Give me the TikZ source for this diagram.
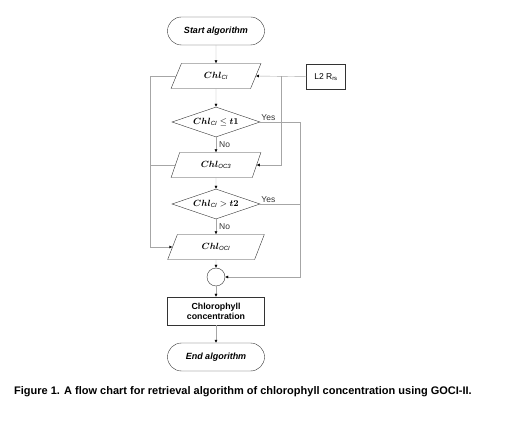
\documentclass[tikz,border=0pt]{standalone}
\usepackage{fontspec}
\setmainfont{Liberation Sans}
\usepackage{bm}
\usetikzlibrary{shapes.geometric, shapes.misc, arrows.meta, positioning}
\tikzset{
  term/.style={draw=black!80, rounded rectangle, minimum width=97pt, minimum height=28pt, inner sep=0pt, font=\fontsize{9}{10}\selectfont\bfseries\itshape},
  io/.style={draw=black!80, trapezium, trapezium left angle=64, trapezium right angle=116, trapezium stretches=true, minimum width=90pt, minimum height=25pt, inner sep=0pt, font=\fontsize{9}{10}\selectfont},
  test/.style={draw=black!80, diamond, aspect=2.9, minimum width=88pt, minimum height=30pt, inner sep=0pt, font=\fontsize{9}{10}\selectfont},
  proc/.style={draw=black!80, rectangle, minimum width=97pt, minimum height=28pt, inner sep=0pt, align=center, font=\fontsize{8.8}{10}\selectfont\bfseries},
  flow/.style={draw=black!35, thin, -{Latex[length=3pt, width=3pt, black]}},
  seg/.style={draw=black!35, thin},
  lbl/.style={font=\fontsize{8.5}{9}\selectfont, text=black!80, inner sep=1pt}
}
\begin{document}
\begin{tikzpicture}[x=1pt, y=-1pt]
  \useasboundingbox (0, 0) rectangle (509, 422);
  % koordinate
  \coordinate (lx) at (150, 0);
  \coordinate (rj) at (281, 0);
  \coordinate (rx) at (300, 0);
  % nodes
  \node [term] (start) at (216, 31) {Start algorithm};
  \node [io] (ci) at (216, 76) {$\bm{Chl}_{\mathit{CI}}$};
  \node [draw=black!80, minimum width=39pt, minimum height=25pt, inner sep=0pt, font=\fontsize{8.5}{9}\selectfont] (rrs) at (326, 77) {L2 R\textsubscript{rs}};
  \node [test] (dt1) at (216, 122) {$\bm{Chl}_{\mathit{CI}} \leq \bm{t1}$};
  \node [io] (oc3) at (216, 165) {$\bm{Chl}_{\mathit{OC3}}$};
  \node [test] (dt2) at (216, 204) {$\bm{Chl}_{\mathit{CI}} > \bm{t2}$};
  \node [io, minimum width=97pt] (oci) at (216, 247) {$\bm{Chl}_{\mathit{OCI}}$};
  \node [draw=black!80, circle, minimum size=18pt, inner sep=0pt] (merge) at (216, 277) {};
  \node [proc] (conc) at (216, 311) {Chlorophyll\\concentration};
  \node [term] (stop) at (216, 357) {End algorithm};
  % main flow
  \draw [flow] (start) -- (ci);
  \draw [flow] (ci) -- (dt1);
  \draw [flow] (dt1) -- node [lbl, right=2pt] {No} (oc3);
  \draw [flow] (oc3) -- (dt2);
  \draw [flow] (dt2) -- node [lbl, right=2pt] {No} (oci);
  \draw [flow] (oci) -- (merge);
  \draw [flow] (merge) -- (conc);
  \draw [flow] (conc) -- (stop);
  % input
  \draw [flow] (rrs) -- (ci.east);
  \draw [flow] (ci.east -| rj) |- (oc3.east);
  % left side
  \draw [flow] (ci.west) -- (ci.west -| lx) |- (oci.west);
  \draw [seg] (oc3.west) -- (oc3.west -| lx);
  % yes branches
  \draw [flow] (dt1.east) -- (dt1.east -| rx) |- (merge.east);
  \draw [seg] (dt2.east) -- (dt2.east -| rx);
  \node [lbl, above right] at (dt1.east) {Yes};
  \node [lbl, above right] at (dt2.east) {Yes};
  % caption
  \node (cap) at (243, 392) {\fontsize{11}{13}\selectfont\bfseries Figure 1. A flow chart for retrieval algorithm of chlorophyll concentration using GOCI-II.};
\end{tikzpicture}
\end{document}
